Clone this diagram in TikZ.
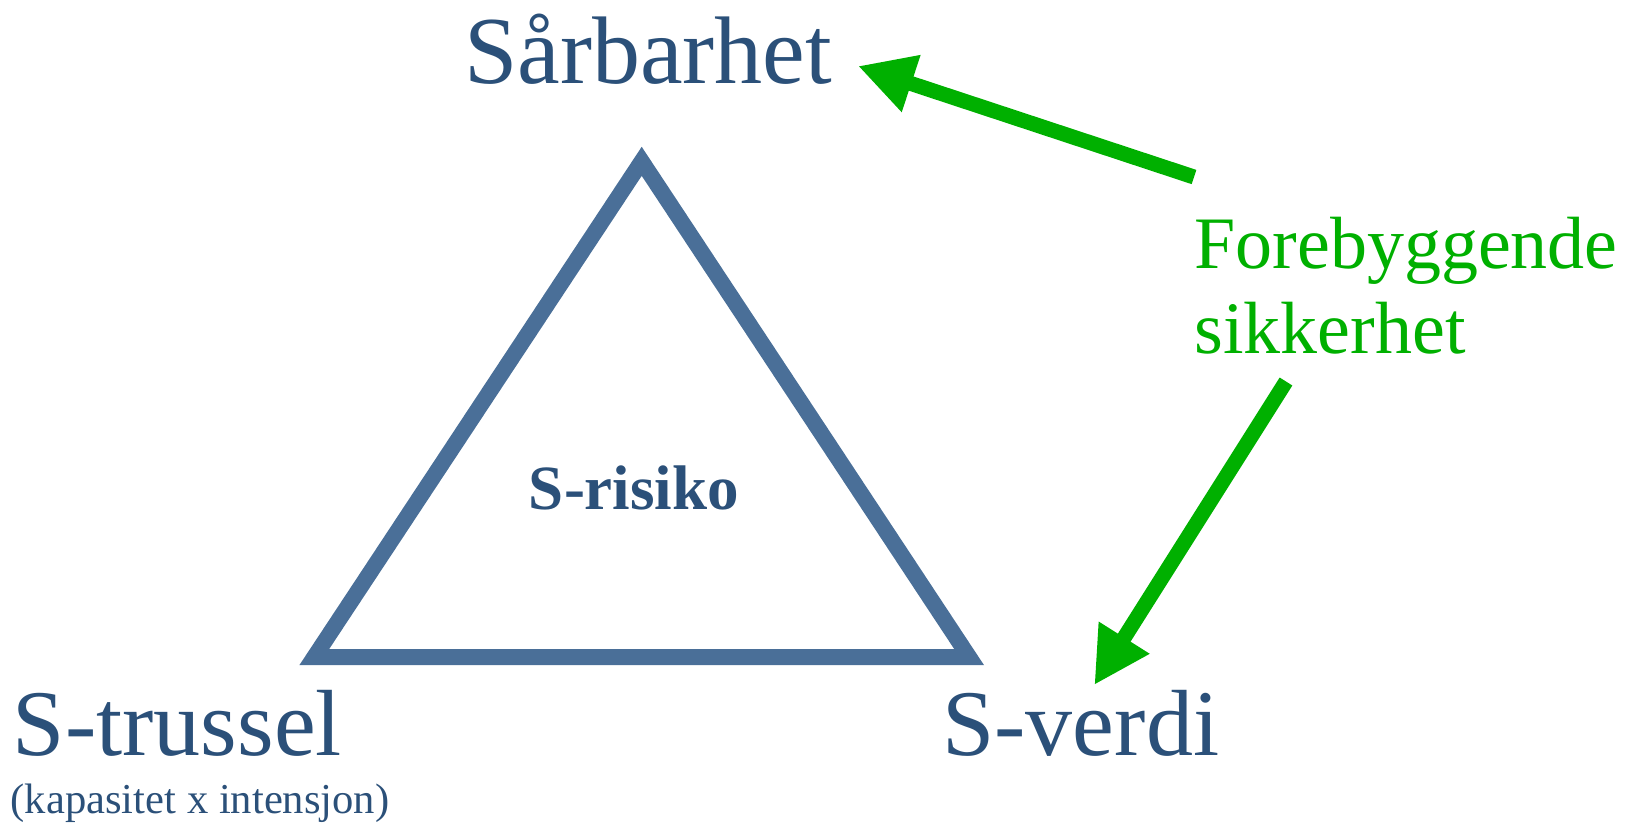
\documentclass[tikz,border=0pt]{standalone}
\usepackage{fontspec}
\setmainfont{Liberation Serif}
\usetikzlibrary{arrows.meta}
\definecolor{tri}{HTML}{4A6F98}
\definecolor{txt}{HTML}{2B5079}
\definecolor{grn}{HTML}{00B000}
\tikzset{
  lbl/.style={inner sep=0pt, anchor=base west, text=txt},
  glbl/.style={inner sep=0pt, anchor=base west, text=grn},
  garrow/.style={draw=grn, line width=7.5pt, -{Triangle[length=28pt,width=28pt]}},
}
\begin{document}
\begin{tikzpicture}[x=0.5pt,y=-0.5pt]
\useasboundingbox (0,0) rectangle (1628,826);
% triangle
\coordinate (apex) at (641.7,161.3);
\coordinate (bl) at (314.2,657.2);
\coordinate (br) at (969.2,657.2);
\draw[draw=tri, line width=8pt, line join=miter] (apex) -- (br) -- (bl) -- cycle;
% labels
\node[lbl, font=\fontsize{48}{56}\selectfont] (sar) at (464,83) {Sårbarhet};
\node[lbl, font=\fontsize{47}{56}\selectfont] (tru) at (12.5,755) {S-trussel};
\node[lbl, font=\fontsize{21.3}{26}\selectfont] (kap) at (10.4,813) {(kapasitet x intensjon)};
\node[lbl, font=\fontsize{47}{56}\selectfont] (ver) at (942,755) {S-verdi};
\node[inner sep=0pt, anchor=base, text=txt, font=\bfseries\fontsize{31.5}{38}\selectfont] (ris) at (634,509) {S-risiko};
\node[glbl, font=\fontsize{37}{44}\selectfont] (fore) at (1194,268) {Forebyggende};
\node[glbl, font=\fontsize{37}{44}\selectfont] (sik) at (1194,353) {sikkerhet};
% arrows
\coordinate (a1s) at (1194,177);
\coordinate (a1e) at (858,66);
\coordinate (a2s) at (1286,381.5);
\coordinate (a2e) at (1094.3,685);
\draw[garrow] (a1s) -- (a1e);
\draw[garrow] (a2s) -- (a2e);
\end{tikzpicture}
\end{document}
